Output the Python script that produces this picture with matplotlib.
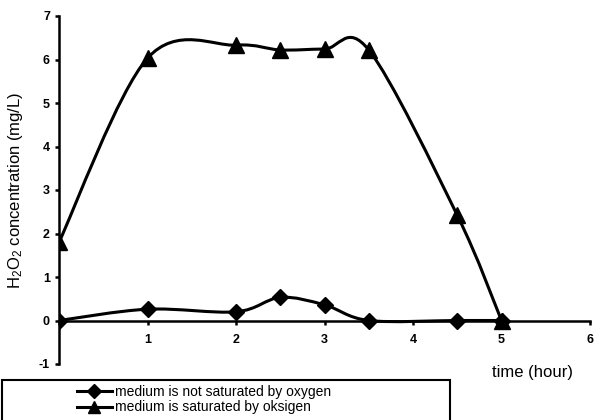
import numpy as np
import matplotlib
matplotlib.use("Agg")
import matplotlib.pyplot as plt
from matplotlib.path import Path
from matplotlib.patches import PathPatch, Rectangle
from matplotlib.lines import Line2D

plt.rcParams['font.family'] = ['Liberation Sans', 'DejaVu Sans']
plt.rcParams['mathtext.default'] = 'regular'
plt.rcParams['axes.unicode_minus'] = False

# data
waktu_tidak = [0, 1, 2, 2.5, 3, 3.5, 4.5, 5]
h2o2_tidak = [0, 0.26, 0.2, 0.53, 0.36, 0, 0, 0]
waktu_jenuh = [0, 1, 2, 2.5, 3, 3.5, 4.5, 5]
h2o2_jenuh = [1.8, 6.03, 6.33, 6.22, 6.24, 6.22, 2.42, 0]
label_tidak = 'medium is not saturated by oxygen'
label_jenuh = 'medium is saturated by oksigen'
xticks = [0, 1, 2, 3, 4, 5, 6]
xticklabels = ['', '1', '2', '3', '4', '5', '6']
yticks = [-1, 0, 1, 2, 3, 4, 5, 6, 7]


# garis halus ala excel (bezier kubik)
def garis_halus(x, y):
    p = np.column_stack([x, y]).astype(float)
    n = len(p)
    verts = [p[0]]
    codes = [Path.MOVETO]
    for i in range(n - 1):
        p0 = p[max(i - 1, 0)]
        p1 = p[i]
        p2 = p[i + 1]
        p3 = p[min(i + 2, n - 1)]
        c1 = p1 + (p2 - p0) / 6
        c2 = p2 - (p3 - p1) / 6
        verts += [c1, c2, p2]
        codes += [Path.CURVE4] * 3
    return Path(verts, codes)


fig = plt.figure(figsize=(5.95, 4.2), dpi=100)
ax = fig.add_axes([59 / 595, 1 - 364 / 420, 531 / 595, 348 / 420])

lw = 2.2
for x, y in [(waktu_tidak, h2o2_tidak), (waktu_jenuh, h2o2_jenuh)]:
    ax.add_patch(PathPatch(garis_halus(x, y), fill=False, lw=lw, color='black', zorder=3))

ax.plot(waktu_tidak, h2o2_tidak, 'D', color='black', ms=8, zorder=4)
ax.plot(waktu_jenuh, h2o2_jenuh, '^', color='black', ms=11, zorder=4)

ax.set_xlim(0, 6)
ax.set_ylim(-1, 7)
ax.spines['top'].set_visible(False)
ax.spines['right'].set_visible(False)
ax.spines['bottom'].set_position(('data', 0))
for s in ['left', 'bottom']:
    ax.spines[s].set_linewidth(1.8)
ax.set_xticks(xticks)
ax.set_xticklabels(xticklabels)
ax.set_yticks(yticks)
ax.tick_params(direction='out', length=3, width=1.8, labelsize=9, pad=3.5)
ax.tick_params(axis='x', pad=7)
for t in ax.get_xticklabels() + ax.get_yticklabels():
    t.set_fontweight('bold')

ax.set_ylabel('H$_2$O$_2$ concentration (mg/L)', fontsize=12, labelpad=10)
fig.text(532 / 595, 1 - 372 / 420, 'time (hour)', fontsize=12, ha='center', va='center')

# kotak legenda
fig.patches.append(Rectangle((2 / 595, -0.1), 448 / 595, 1.1 - 380 / 420,
                             transform=fig.transFigure, fill=False, lw=1.5,
                             edgecolor='black'))
handles = [Line2D([], [], color='black', lw=lw, marker='D', ms=7),
           Line2D([], [], color='black', lw=lw, marker='^', ms=9)]
fig.legend(handles, [label_tidak, label_jenuh], loc='upper left',
           bbox_to_anchor=(77 / 595, 1 - 385 / 420), frameon=False, fontsize=10,
           borderpad=0, borderaxespad=0, handlelength=2.5, handletextpad=0.2,
           labelspacing=0.1)

fig.savefig('out.png', dpi=100)
